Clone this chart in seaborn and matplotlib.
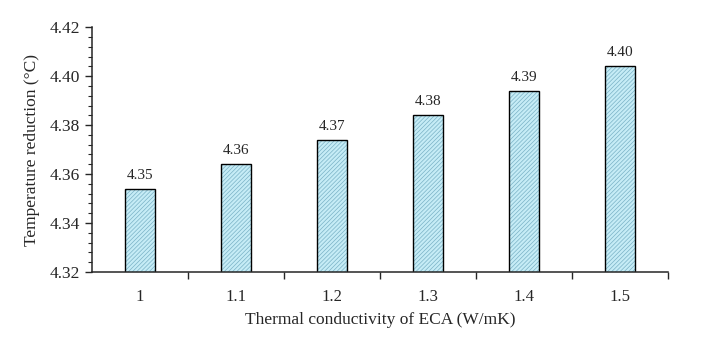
import matplotlib
matplotlib.use("Agg")
import matplotlib.pyplot as plt
import seaborn as sns
import pandas as pd
from matplotlib.ticker import AutoMinorLocator

conductivity = ["1", "1.1", "1.2", "1.3", "1.4", "1.5"]
temp_reduction = [4.354, 4.364, 4.374, 4.384, 4.394, 4.404]
y_ticks = [4.32, 4.34, 4.36, 4.38, 4.40, 4.42]

df = pd.DataFrame({"k": conductivity, "dT": temp_reduction})

sns.set_style("ticks")
plt.rcParams["font.family"] = ["Liberation Serif", "DejaVu Serif"]
plt.rcParams["hatch.linewidth"] = 0.5

fig = plt.figure(figsize=(7.01, 3.52), dpi=100)
ax = fig.add_axes([0.131, 0.227, 0.822, 0.696])

# hatched fill
sns.barplot(x="k", y="dT", data=df, ax=ax, color="#c6ecf6", width=0.31,
            edgecolor="#7ab2c6", linewidth=0, saturation=1, errorbar=None)
for p in ax.patches:
    p.set_hatch("////////")
# black outline on top
sns.barplot(x="k", y="dT", data=df, ax=ax, fill=False, width=0.31,
            edgecolor="black", linewidth=1.0, errorbar=None)

ax.bar_label(ax.containers[0], fmt="%.2f", padding=5, fontsize=11)

ax.set_yticks(y_ticks)
ax.set_yticklabels([f"{v:.2f}" for v in y_ticks])
ax.set_ylim(4.32, 4.42)
ax.yaxis.set_minor_locator(AutoMinorLocator(5))
ax.tick_params(axis="y", which="major", length=5, width=1, labelsize=12.5)
ax.tick_params(axis="y", which="minor", length=3, width=0.8)

ax.set_xlim(-0.5, 5.5)
ax.set_xticks([i + 0.5 for i in range(6)], minor=True)
ax.tick_params(axis="x", which="major", length=0, pad=12, labelsize=12)
ax.tick_params(axis="x", which="minor", length=5, width=1)

sns.despine(ax=ax)
for s in ["left", "bottom"]:
    ax.spines[s].set_linewidth(1.1)

ax.set_xlabel("Thermal conductivity of ECA (W/mK)", fontsize=12.5, labelpad=5)
ax.set_ylabel("Temperature reduction (\u00b0C)", fontsize=12.5, labelpad=7)

fig.savefig("out.png", dpi=100)
